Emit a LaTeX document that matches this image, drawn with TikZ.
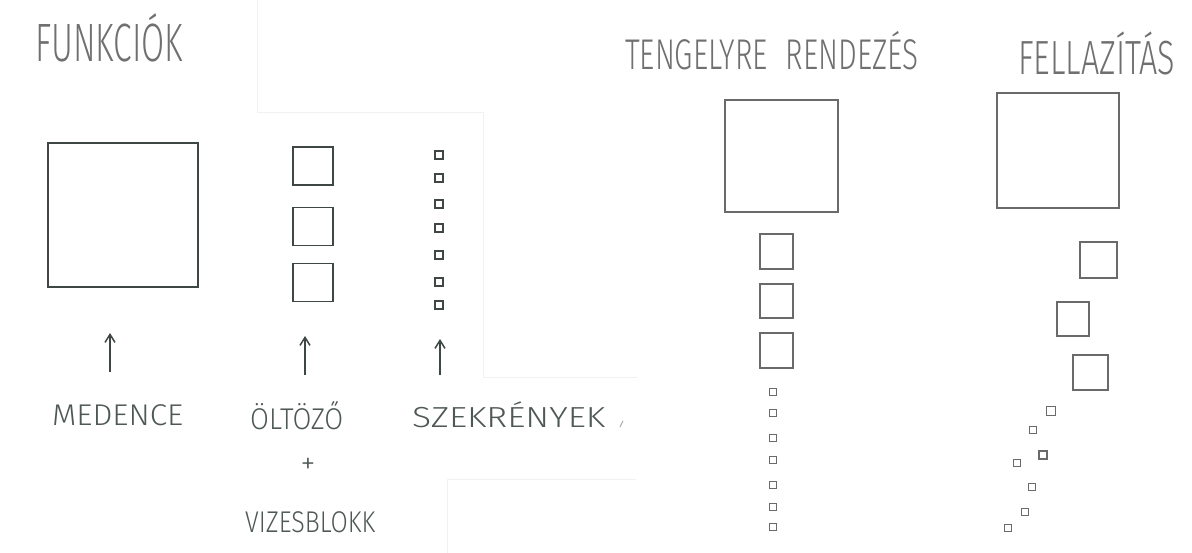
\documentclass[tikz,border=0pt]{standalone}
\usepackage{fontspec}
\usepackage{graphicx}
\newfontfamily\hand{Fira Sans Light}
\usetikzlibrary{arrows.meta}
\definecolor{inkL}{HTML}{3F4743}
\definecolor{inkR}{HTML}{6A6A6A}
\definecolor{txtL}{HTML}{4F5954}
\definecolor{txtT}{HTML}{707070}
\definecolor{ghost}{HTML}{F1F1F1}
\newcommand\hw[3]{\resizebox{#1pt}{\height}{\fontsize{#2}{#2}\hand\selectfont #3}}
\tikzset{
  lbox/.style={draw=inkL, line width=1.8pt, inner sep=0pt, minimum width=40pt, minimum height=38pt},
  lmini/.style={draw=inkL, line width=2pt, inner sep=0pt, minimum size=7.5pt},
  rbox/.style={draw=inkR, line width=1.4pt, inner sep=0pt},
  rmini/.style={draw=inkR, line width=1.2pt, inner sep=0pt, minimum size=7pt},
  lbl/.style={inner sep=0pt, anchor=base west},
  uparrow/.style={draw=inkL, line width=1.5pt, -{Straight Barb[length=8pt,width=10pt]}},
  ghostline/.style={draw=ghost, line width=1pt}
}
\begin{document}
\begin{tikzpicture}[x=1pt,y=-1pt]
\useasboundingbox[fill=white] (0,0) rectangle (1192,553);
% faint scan edges
\draw[ghostline] (257,0) -- (257,113) -- (483,113) -- (483,378) -- (637,378);
\draw[ghostline] (447,553) -- (447,479) -- (636,479);
% titles
\node[lbl, text=txtT] (t1) at (35,62) {\hw{148}{54}{FUNKCIÓK}};
\node[lbl, text=txtT] (t2) at (625,70) {\hw{293}{43}{TENGELYRE\hspace{0.6em}RENDEZÉS}};
\node[lbl, text=txtT] (t3) at (1018,75) {\hw{157}{48}{FELLAZÍTÁS}};
% left group
\node[draw=inkL, line width=1.9pt, inner sep=0pt, minimum width=150pt, minimum height=144pt] (med) at (123,215) {};
\node[lbox] (o1) at (313,166) {};
\node[lbox] (o2) at (313,226.5) {};
\node[lbox] (o3) at (313,282.5) {};
\foreach \y [count=\i] in {155,178,204,228,255,282,305}
  \node[lmini] (s\i) at (439,\y) {};
% labels
\node[lbl, text=txtL] (lmed) at (52,425) {\hw{131}{30}{MEDENCE}};
\node[lbl, text=txtL] (lolt) at (250,430) {\hw{93}{30}{ÖLTÖZŐ}};
\node[inner sep=0pt, text=txtL] (plus) at (308,466) {\fontsize{30}{30}\hand\selectfont +};
\node[lbl, text=txtL] (lviz) at (245,532) {\hw{130}{30}{VIZESBLOKK}};
\node[lbl, text=txtL] (lsz) at (412,428) {\hw{193}{29}{SZEKRÉNYEK}};
\draw[draw=txtL!50, line width=1pt] (623,421) -- (620,427);
% arrows
\coordinate (a1s) at (110,372); \coordinate (a1e) at (110,333);
\coordinate (a2s) at (305,375); \coordinate (a2e) at (305,336);
\coordinate (a3s) at (440,375); \coordinate (a3e) at (440,339);
\draw[uparrow] (a1s) -- (a1e);
\draw[uparrow] (a2s) -- (a2e);
\draw[uparrow] (a3s) -- (a3e);
% tengelyre rendezes
\node[rbox, minimum width=113pt, minimum height=112pt] (tb) at (781.5,156) {};
\node[rbox, minimum width=33pt, minimum height=35pt] (tq1) at (776.5,251.5) {};
\node[rbox, minimum width=33pt, minimum height=34pt] (tq2) at (776.5,301) {};
\node[rbox, minimum width=33pt, minimum height=35pt] (tq3) at (776.5,350.5) {};
\foreach \y [count=\i] in {392,413,438,460,485,507,527}
  \node[rmini] (tm\i) at (773,\y) {};
% fellazitas
\node[rbox, minimum width=122pt, minimum height=115pt] (fb) at (1058,150.5) {};
\node[rbox, minimum width=37pt, minimum height=36pt] (fq1) at (1098.5,260) {};
\node[rbox, minimum width=32pt, minimum height=34pt] (fq2) at (1073,319) {};
\node[rbox, minimum width=35pt, minimum height=35pt] (fq3) at (1090.5,372.5) {};
\node[rmini, minimum size=9pt] (fm1) at (1051,411) {};
\node[rmini] (fm2) at (1033,430) {};
\node[rmini, minimum size=8pt] (fm3) at (1043,455) {};
\node[rmini] (fm4) at (1017,463) {};
\node[rmini] (fm5) at (1032,487) {};
\node[rmini] (fm6) at (1025,512) {};
\node[rmini] (fm7) at (1008,528) {};
\end{tikzpicture}
\end{document}
